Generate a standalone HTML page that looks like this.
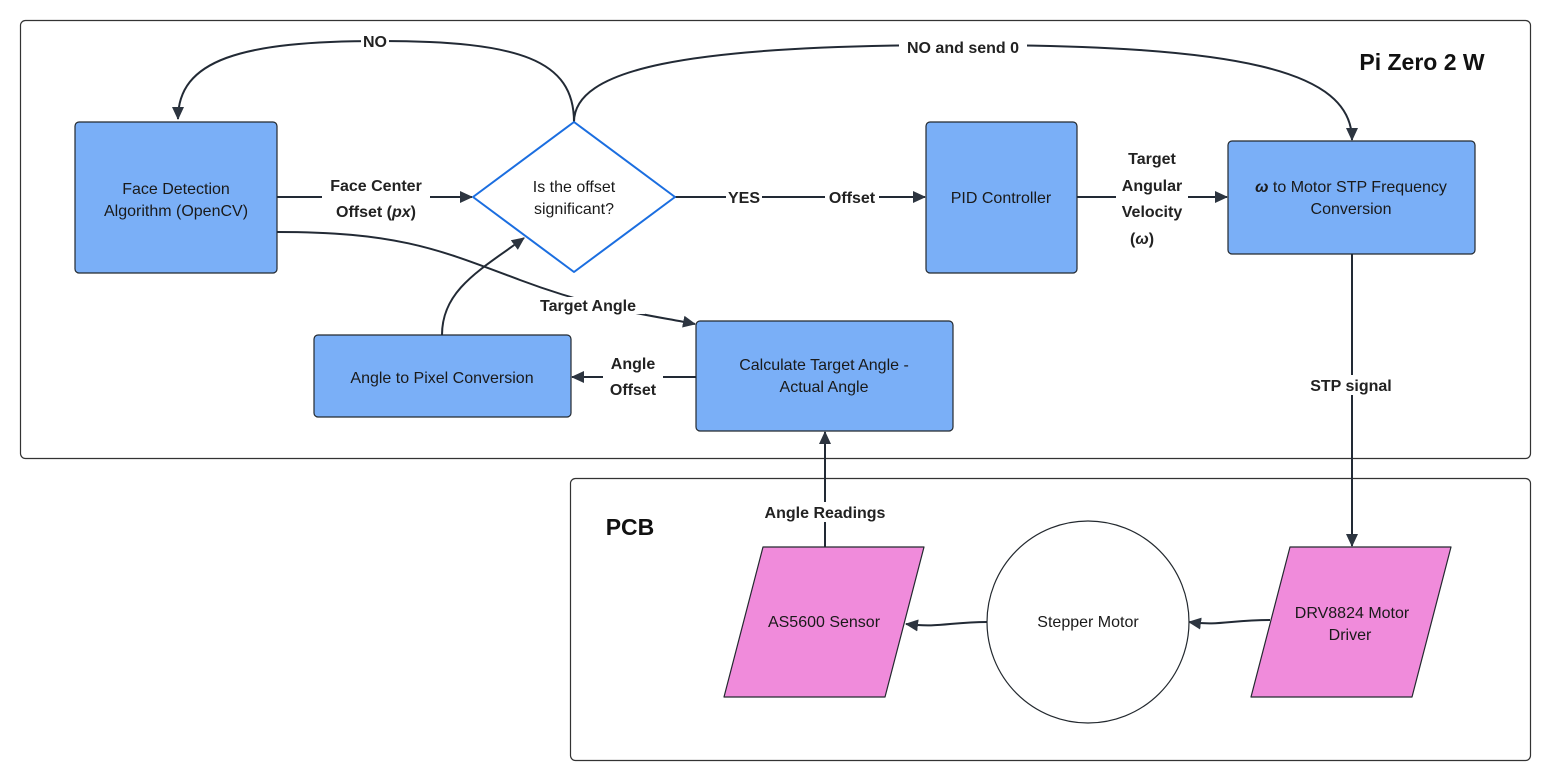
<!DOCTYPE html>
<html><head><meta charset="utf-8"><style>
html,body{margin:0;padding:0;background:#fff}
svg{display:block}
text{font-family:"Liberation Sans",sans-serif}
.n{font-size:16px;fill:#1a1a1a;text-anchor:middle}
.l{font-size:16px;font-weight:bold;fill:#222;text-anchor:middle}
.c{fill:none;stroke:#222a35;stroke-width:2}
</style></head><body>
<svg width="1552" height="784" viewBox="0 0 1552 784">
<defs><marker id="a" markerWidth="14" markerHeight="14" refX="12" refY="7" orient="auto" markerUnits="userSpaceOnUse"><path d="M0,1 L13,7 L0,13 z" fill="#2d3540"/></marker></defs>
<rect x="20.5" y="20.5" width="1510" height="438" rx="5" fill="#fff" stroke="#333" stroke-width="1.2"/>
<rect x="570.5" y="478.5" width="960" height="282" rx="5" fill="#fff" stroke="#333" stroke-width="1.2"/>
<text x="1422" y="70" style="font-size:23px;font-weight:bold;fill:#111;text-anchor:middle">Pi Zero 2 W</text>
<text x="630" y="535" style="font-size:23px;font-weight:bold;fill:#111;text-anchor:middle">PCB</text>

<path class="c" d="M574,122 C574,60 520,41 380,41 C240,41 178,60 178,119" marker-end="url(#a)"/>
<path class="c" d="M574,122 C574,70 680,45 960,45 C1240,45 1352,70 1352,140" marker-end="url(#a)"/>
<path class="c" d="M277,197 L472,197" marker-end="url(#a)"/>
<path class="c" d="M675,197 L925,197" marker-end="url(#a)"/>
<path class="c" d="M1077,197 L1227,197" marker-end="url(#a)"/>
<path class="c" d="M277,232 C400,232 440,250 520,280 C600,310 650,315 695,324" marker-end="url(#a)"/>
<path class="c" d="M442,335 C442,290 480,270 524,238" marker-end="url(#a)"/>
<path class="c" d="M696,377 L572,377" marker-end="url(#a)"/>
<path class="c" d="M1352,254 L1352,546" marker-end="url(#a)"/>
<path class="c" d="M825,547 L825,432" marker-end="url(#a)"/>
<path class="c" d="M987,622 C950,622 940,628 906,624" marker-end="url(#a)"/>
<path class="c" d="M1270,620 C1230,620 1220,626 1189,622" marker-end="url(#a)"/>

<rect x="361" y="31" width="28" height="20" fill="#fff"/><text class="l" x="375" y="47">NO</text>
<rect x="899" y="37" width="128" height="20" fill="#fff"/><text class="l" x="963" y="53">NO and send 0</text>
<rect x="322" y="174" width="108" height="48" fill="#fff"/>
<text class="l" x="376" y="191">Face Center</text><text class="l" x="376" y="217">Offset (<tspan font-style="italic">px</tspan>)</text>
<rect x="726" y="187" width="36" height="20" fill="#fff"/><text class="l" x="744" y="203">YES</text>
<rect x="825" y="187" width="54" height="20" fill="#fff"/><text class="l" x="852" y="203">Offset</text>
<rect x="1116" y="146" width="72" height="100" fill="#fff"/>
<text class="l" x="1152" y="164">Target</text><text class="l" x="1152" y="191">Angular</text><text class="l" x="1152" y="217">Velocity</text><text class="l" x="1130" y="244" style="text-anchor:start">(<tspan font-style="italic">ω</tspan>)</text>
<rect x="531" y="297" width="114" height="17" fill="#fff"/><text class="l" x="588" y="311">Target Angle</text>
<rect x="603" y="352" width="60" height="48" fill="#fff"/>
<text class="l" x="633" y="369">Angle</text><text class="l" x="633" y="395">Offset</text>
<rect x="1305" y="375" width="94" height="20" fill="#fff"/><text class="l" x="1351" y="391">STP signal</text>
<rect x="755" y="502" width="140" height="20" fill="#fff"/><text class="l" x="825" y="518">Angle Readings</text>

<rect x="75" y="122" width="202" height="151" rx="4" fill="#7aaff7" stroke="#23292f" stroke-width="1.2"/>
<text class="n" x="176" y="194">Face Detection</text><text class="n" x="176" y="216">Algorithm (OpenCV)</text>
<path d="M574,122 L675,197 L574,272 L473,197 z" fill="#fff" stroke="#1b6ee0" stroke-width="2" stroke-linejoin="round"/>
<text class="n" x="574" y="192">Is the offset</text><text class="n" x="574" y="214">significant?</text>
<rect x="926" y="122" width="151" height="151" rx="4" fill="#7aaff7" stroke="#23292f" stroke-width="1.2"/>
<text class="n" x="1001" y="203">PID Controller</text>
<rect x="1228" y="141" width="247" height="113" rx="4" fill="#7aaff7" stroke="#23292f" stroke-width="1.2"/>
<text class="n" x="1351" y="192"><tspan font-weight="bold" font-style="italic">ω</tspan> to Motor STP Frequency</text><text class="n" x="1351" y="214">Conversion</text>
<rect x="696" y="321" width="257" height="110" rx="4" fill="#7aaff7" stroke="#23292f" stroke-width="1.2"/>
<text class="n" x="824" y="370">Calculate Target Angle -</text><text class="n" x="824" y="392">Actual Angle</text>
<rect x="314" y="335" width="257" height="82" rx="4" fill="#7aaff7" stroke="#23292f" stroke-width="1.2"/>
<text class="n" x="442" y="383">Angle to Pixel Conversion</text>
<path d="M763,547 L924,547 L885,697 L724,697 z" fill="#f08bdb" stroke="#23292f" stroke-width="1.2" stroke-linejoin="round"/>
<text class="n" x="824" y="627">AS5600 Sensor</text>
<circle cx="1088" cy="622" r="101" fill="#fff" stroke="#23292f" stroke-width="1.2"/>
<text class="n" x="1088" y="627">Stepper Motor</text>
<path d="M1290,547 L1451,547 L1412,697 L1251,697 z" fill="#f08bdb" stroke="#23292f" stroke-width="1.2" stroke-linejoin="round"/>
<text class="n" x="1352" y="618">DRV8824 Motor</text><text class="n" x="1350" y="640">Driver</text>
</svg>
</body></html>
